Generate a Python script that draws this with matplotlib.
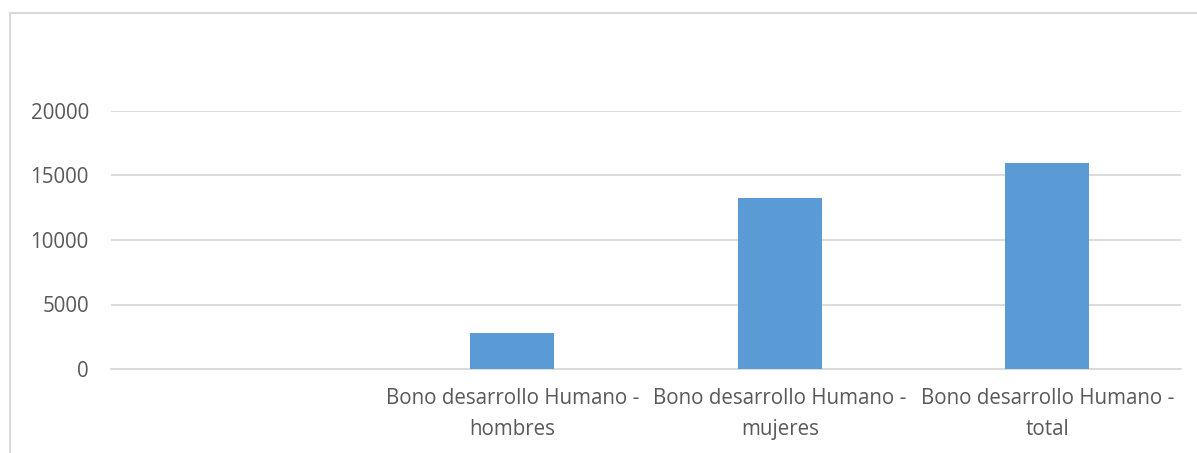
import matplotlib.pyplot as plt
from matplotlib.patches import Rectangle

plt.rcParams['font.family'] = ['Open Sans', 'DejaVu Sans']

# data
categories = ['', 'Bono desarrollo Humano -\nhombres',
              'Bono desarrollo Humano -\nmujeres',
              'Bono desarrollo Humano -\ntotal']
values = [0, 2760, 13250, 16000]
yticks = [0, 5000, 10000, 15000, 20000]

W, H = 1197, 453
fig = plt.figure(figsize=(W / 100, H / 100), dpi=100)

# chart area frame (cut off at right and bottom)
fig.patches.append(Rectangle((10 / W, -0.1), 1.2, (H - 13) / H + 0.1,
                             transform=fig.transFigure, fill=False,
                             edgecolor='#d9d9d9', linewidth=1.5))

ax = fig.add_axes([111 / W, (H - 369) / H, 1070 / W, 258 / H])
x = list(range(len(categories)))
ax.bar(x, values, width=0.314, color='#5b9bd5', zorder=3)

ax.set_xlim(-0.5, len(categories) - 0.5)
ax.set_ylim(0, 20000)
ax.set_yticks(yticks)
ax.set_yticklabels([str(v) for v in yticks])
ax.set_xticks(x)
ax.set_xticklabels(categories, linespacing=1.6)

ax.grid(axis='y', color='#d9d9d9', linewidth=1.3, zorder=0)
for s in ['top', 'right', 'left']:
    ax.spines[s].set_visible(False)
ax.spines['bottom'].set_color('#d9d9d9')
ax.spines['bottom'].set_linewidth(1.3)
ax.tick_params(axis='both', length=0, labelsize=14.8, labelcolor='#595959')
ax.tick_params(axis='y', pad=16)
ax.tick_params(axis='x', pad=14)

fig.savefig('out.png', dpi=100)
